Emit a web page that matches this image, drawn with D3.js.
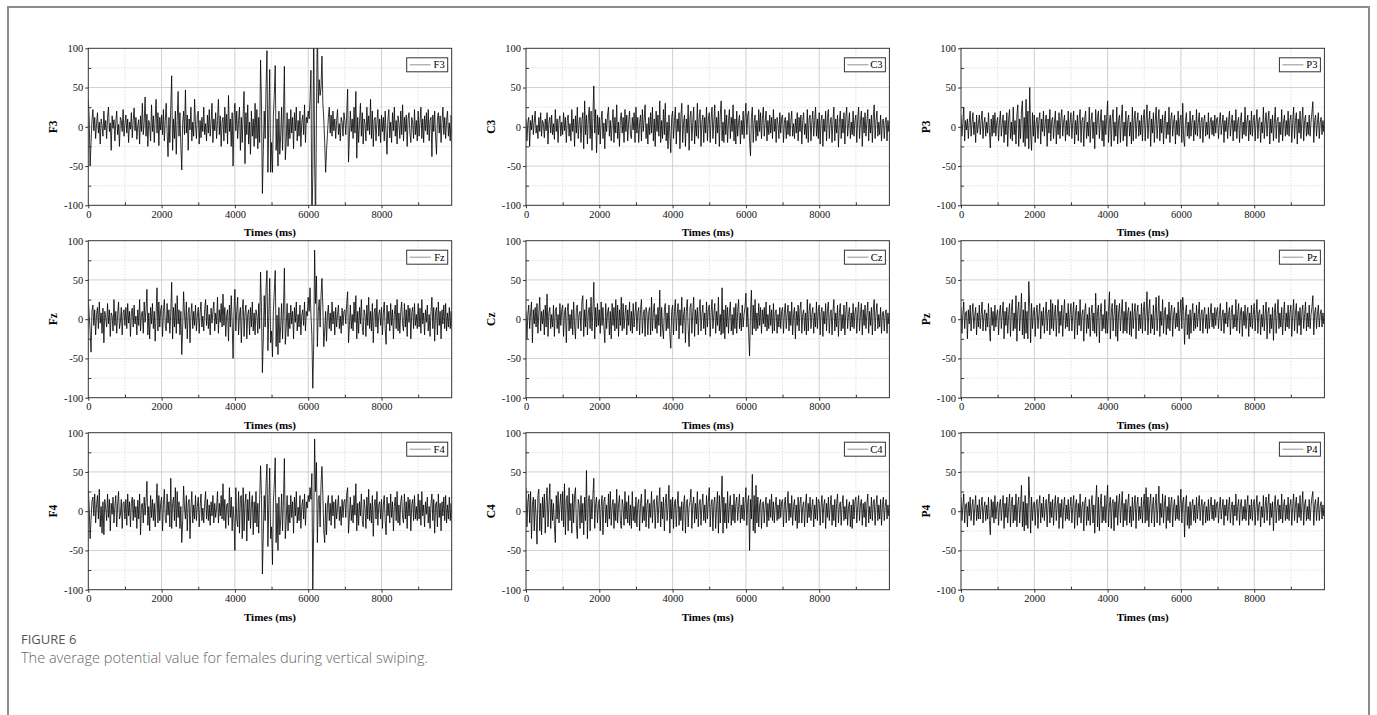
<!DOCTYPE html>
<html>
<head>
<meta charset="utf-8">
<script src="https://cdn.jsdelivr.net/npm/d3@7"></script>
<style>
  body { margin: 0; background: #fff; }
  svg { display: block; }
</style>
</head>
<body>
<svg id="fig" width="1377" height="715"></svg>
<script>
// sampling step of the traces (ms)
const STEP = 25
const xTicks = [0, 2000, 4000, 6000, 8000]
const yTicks = [-100, -50, 0, 50, 100]

// channel names, in grid order (row by row)
const channels = ["F3", "C3", "P3", "Fz", "Cz", "Pz", "F4", "C4", "P4"]

// values, one every 25 ms (one line = 1 s)
const F3 = [
  35,10,-50,-20,8,22,-5,12,-15,4, 18,-8,6,-22,10,2,-12,20,-4,8, -15,12,25,-6,5,-30,14,-2,9,-18, 6,20,-10,3,-25,12,8,-6,22,-12,
  4,15,-8,10,-20,6,-3,18,-14,8, 24,-5,12,-16,2,9,-22,14,-6,30, -10,5,38,-12,16,-25,8,2,-18,28, -6,14,-20,10,35,-8,18,-24,12,-4,
  15,-10,22,-18,8,30,-6,-38,12,-20, 25,65,-30,10,-15,20,-35,8,45,-12, 18,-25,-55,5,20,-10,47,-8,15,-30, 10,-4,25,-18,6,-12,35,2,-15,14,
  20,-22,8,-14,12,-6,25,-10,4,-18, 15,-8,22,-12,6,30,-20,10,-5,18, -15,8,35,-10,14,-25,6,12,-18,25, -8,16,-22,40,-6,10,-25,18,-50,12,
  30,-5,20,-15,8,25,-30,12,-20,15, 45,-47,18,-10,28,-22,6,-35,20,-12, 10,-25,30,-15,22,-28,12,-20,85,30, -85,-30,20,-15,50,97,-58,10,73,-58,
  -20,-58,15,40,78,-30,10,-50,20,-35, -10,25,-30,15,77,-42,-20,18,-25,10, -15,22,-8,12,-28,18,-5,25,-18,8, -12,20,-25,6,15,-10,28,-20,12,5,
  20,10,35,72,-130,-60,130,-40,-130,20, 130,30,60,40,50,90,30,10,-20,-58, -30,-10,12,25,-8,15,-12,20,-5,10, -15,8,22,-10,4,-18,12,6,-12,18,
  8,-10,15,48,-45,-12,20,-6,10,-15, 25,-8,45,-40,12,-20,6,30,-12,18, -22,10,4,-18,25,-5,14,-10,35,-15, 20,-25,8,12,-18,6,22,-12,10,-20,
  15,-6,12,-18,20,-8,-35,10,22,-14, 6,-20,18,-5,25,-12,8,-22,14,4, -15,20,-10,28,-18,12,-6,15,-25,10, 18,-8,-20,12,5,-15,22,-10,8,-18,
  20,-12,6,25,-15,10,-20,14,-5,18, -10,22,-18,8,12,-38,15,-6,20,-12, -35,10,18,-8,14,-20,6,25,-10,12, -15,8,20,-12,5,-18,15,-6,10,-4]
const Fz = [
  25,5,-15,-42,10,18,-8,12,-20,6, 15,-12,22,-5,8,-18,14,-30,10,2, -10,20,-6,12,-22,8,4,-15,25,-8, 10,-18,6,22,-12,-4,15,-20,8,12,
  -8,15,-12,20,-5,10,-22,8,14,-10, 18,-6,4,-20,12,-8,25,-15,6,10, -18,22,-4,12,38,-20,8,-25,15,-6, 20,-12,10,-28,6,40,-15,22,-10,12,
  18,-22,10,25,-8,-15,20,-5,12,-18, 8,47,-25,15,-10,20,-18,30,-6,12, -20,10,-45,-10,35,5,-12,22,-25,8, 15,-30,6,20,-12,10,-8,18,-15,4,
  15,-18,8,22,-10,4,-15,12,25,-8, 18,-12,6,-20,14,-5,10,22,-15,8, -6,28,-18,12,-4,20,-10,32,-8,15, -22,6,12,-28,18,-10,30,-5,-50,10,
  38,-15,10,28,-20,5,15,-30,12,25, -22,8,18,-25,6,12,-20,15,-10,22, -15,8,-20,12,5,-18,20,-12,60,15, -68,-25,30,-10,40,62,-40,5,52,-30,
  -15,-48,10,35,62,-35,5,-45,15,-30, -8,20,-25,12,65,-32,-10,20,-22,8, -12,18,-6,10,-25,15,-4,22,-15,6, -10,18,-20,5,12,-8,22,-15,10,4,
  28,10,40,5,-20,-88,-30,88,20,55, -35,10,25,-10,30,52,15,-35,-15,10, -28,5,18,-12,8,-15,22,-6,10,-20, 15,-10,6,18,-12,4,-18,14,-8,10,
  12,-6,20,35,-30,-8,18,-12,6,-15, 22,-4,30,-25,10,-18,15,-6,25,-10, -20,12,6,-22,18,-8,28,-12,10,-15, 20,-30,8,14,-10,25,-18,6,12,-8,
  15,-20,8,22,-12,-32,18,-6,10,-15, 20,-8,12,-25,6,18,-12,25,-15,8, -18,10,22,-6,-15,20,-10,12,-22,18, -4,14,-25,8,15,-12,20,-8,6,-12,
  20,-10,14,-18,25,-6,8,-20,12,-4, 18,-15,6,-22,10,28,-12,15,-28,8, 15,-20,22,-8,10,-25,12,-6,18,-12, 20,-15,8,-10,15,-12,10,-8,12,-5]
const F4 = [
  27,5,-35,-10,12,18,-6,22,-15,8, 20,-10,28,-20,6,-28,12,-30,15,4, -12,22,-8,15,-25,10,-4,18,-15,6, 20,-20,8,25,-10,-5,15,-22,10,12,
  -10,15,-18,22,-6,12,-20,10,18,-12, 15,-8,6,-22,14,-10,22,-30,8,10, -15,18,-5,12,38,-18,6,-25,20,-8, 15,-12,10,-20,8,35,-15,20,-12,10,
  18,-25,8,28,-10,-15,22,-5,12,-20, 42,-22,10,18,-12,30,-20,25,-8,12, -22,6,-40,-12,32,4,-10,20,-25,10, 15,-35,5,25,-15,8,-10,20,-12,6,
  18,-20,6,22,-12,4,-15,10,25,-10, 15,-12,8,-18,12,-6,20,-15,10,-8, 4,25,-15,10,-6,20,-10,35,-12,15, -22,8,10,-18,30,-8,18,-25,6,-10,
  -50,30,-10,-20,25,-28,18,20,-35,30, -25,10,22,-38,15,-12,25,-22,8,20, -30,12,-15,25,-20,10,-28,15,58,20, -80,-30,20,-12,35,60,-45,8,55,-35,
  -20,-68,12,35,68,-40,10,-50,18,-30, -10,22,-25,15,67,-35,-12,20,-25,8, -15,20,-8,12,-28,18,-6,25,-15,5, -12,20,-22,6,15,-10,22,-18,12,4,
  20,12,30,15,48,-100,-20,92,25,62, -40,15,20,-20,35,57,20,-25,-40,10, -30,8,20,-12,10,-18,20,-6,12,-22, 15,-10,5,20,-12,6,-18,15,-8,12,
  15,-8,22,30,-28,-6,18,-12,8,-15, 20,-5,35,-25,10,-18,12,-6,22,-12, -20,15,4,-22,18,-10,28,-12,10,-15, 20,-32,6,15,-10,25,-18,8,12,-10,
  15,-22,8,20,-12,-30,18,-6,10,-15, 22,-8,12,-25,6,18,-12,25,-15,8, -18,12,20,-8,-15,22,-10,12,-22,18, -6,15,-25,8,15,-12,20,-10,6,-12,
  22,-10,14,-18,25,-6,8,-20,12,-4, 18,-15,6,-22,10,22,-12,15,-28,8, 12,-20,22,-8,10,-25,12,-6,18,-12, 20,-15,8,-10,18,-12,10,-8,12,-5]
const C3 = [
  10,-18,5,12,-25,8,-4,15,-10,6, 20,-8,2,-15,12,-6,18,-12,8,4, -14,10,-5,18,-22,6,12,-8,15,-10, 4,-16,22,-6,10,-20,8,14,-12,6,
  -10,18,-5,12,-20,8,15,-12,4,-18, 22,-6,10,-25,14,-8,25,-15,6,12, -20,8,18,-28,33,-10,15,-22,10,25, -15,20,-30,12,52,-8,22,-33,15,-10,
  12,-22,8,20,-15,5,-28,10,-6,15, 25,-12,8,-18,4,22,-20,12,-8,28, -15,6,-25,10,18,-8,12,-20,22,-6, 15,-18,6,20,-10,-15,12,-4,18,-20,
  25,-8,12,-20,5,15,-18,22,-6,10, 28,-15,4,-22,12,-10,18,-8,25,-18, 10,-25,20,-6,15,-12,33,-20,8,-15, 22,-10,30,-18,6,-28,15,-8,-33,12,
  20,-15,8,25,-22,10,-6,18,-28,12, 30,-20,6,15,-25,10,-8,28,-30,12, 20,-18,5,25,-22,8,-12,30,-15,10, 22,-25,6,15,-20,12,-8,25,-18,10,
  18,-20,10,25,-15,6,28,-22,12,-8, 20,-25,15,33,-18,6,-20,22,-10,15, -20,8,22,-15,12,-6,28,-18,10,-22, 20,-12,6,15,-22,8,-10,20,-15,12,
  30,-10,15,20,-18,-37,12,25,-20,6, 15,-18,8,-12,22,-6,18,-15,10,25, -12,6,20,-18,8,-10,15,-8,12,-15, 22,-6,10,-20,12,4,-15,18,-8,12,
  15,-20,6,12,-15,8,-10,18,-12,6, 20,-12,4,-15,10,-8,18,-18,12,-6, 15,-22,8,18,-10,4,-15,22,-20,10, 15,-18,6,20,-12,8,25,-12,10,-15,
  18,-22,8,15,-25,10,-6,20,-18,12, 22,-15,6,12,-20,8,25,-18,10,-8, 15,-26,6,20,-15,10,-8,18,-22,12, 25,-12,4,18,-15,6,-10,20,-12,8,
  15,-20,10,25,-15,6,20,-25,12,-8, 18,-12,6,22,-18,10,-8,15,-20,12, 28,-15,8,20,-12,6,-10,15,-18,8, 10,-15,6,12,-18,8,-6,10,-8,5]
const Cz = [
  10,-25,6,18,-12,8,22,-30,12,-6, 15,-10,20,-18,8,28,-15,10,-6,12, -20,18,-10,32,-22,8,15,-12,6,-10, 18,-22,10,15,-12,6,-18,20,-8,12,
  18,-22,8,15,-30,10,20,-15,6,-12, 12,-20,22,-8,-25,15,18,-12,6,10, -15,22,30,-22,12,-10,25,-20,8,15, -12,28,-15,10,47,-25,15,-10,20,-8,
  12,-18,22,-8,15,-10,-30,20,-12,8, 15,-20,10,-25,20,-8,15,-15,25,-12, 18,-22,12,-8,28,-15,20,-12,6,18, -20,12,-8,22,-15,10,-18,20,-10,8,
  22,-15,8,15,-20,12,25,-18,6,12, -22,15,8,-20,10,15,-20,28,-15,8, 20,-12,6,-18,15,-8,37,-22,15,-10, -25,12,20,-15,8,-12,18,-20,-37,10,
  18,-20,10,25,-15,6,20,-25,12,-8, 28,-18,6,15,-30,10,25,-12,-35,15, 20,-18,8,28,-22,12,-6,15,-20,10, 25,-15,6,18,-12,8,-20,22,-10,12,
  18,-22,8,25,-12,6,20,-18,10,-8, 28,-15,6,-20,40,-18,12,-25,18,-10, 15,-18,8,22,-15,6,-20,15,-12,20, -18,10,25,-12,8,-15,18,-10,6,15,
  33,-10,15,-18,-47,8,37,-20,18,-12, 25,-15,8,-12,20,-8,15,-18,12,-6, 15,-10,22,-15,6,-12,18,-8,12,-18, 20,-15,8,12,-18,6,-10,15,-12,10,
  15,-18,8,20,-12,6,18,-15,10,-8, 22,-20,6,15,-25,10,-8,18,-15,12, 22,-18,6,12,-15,8,-20,25,-15,10, 20,-12,6,15,-18,8,-10,22,-12,10,
  18,-20,8,15,-22,10,-6,20,-15,12, 22,-18,6,12,-20,10,25,-15,8,-10, 18,-22,8,20,-15,6,-12,18,-20,10, 22,-12,6,15,-15,8,-10,20,-12,8,
  15,-18,8,22,-15,6,20,-20,12,-8, 18,-12,6,22,-18,10,-8,15,-20,12, 25,-15,8,20,-12,6,-10,15,-18,8, 10,-15,6,12,-18,8,-6,10,-8,5]
const C4 = [
  30,-20,12,22,-15,25,-35,8,18,-25, 15,-6,-42,20,28,-25,10,-30,18,-8, 22,-28,12,30,-20,8,35,-22,15,-12, 10,-18,-40,20,-10,25,-15,8,22,-12,
  25,-20,35,-30,15,20,-25,30,-12,10, -28,22,-15,20,30,-18,-35,15,8,-22, 20,-15,10,-30,18,-12,52,-35,12,20, -25,15,-10,20,42,-22,10,18,-15,8,
  15,-25,6,20,-30,12,18,-15,8,-20, 22,-10,25,-18,6,15,-22,10,-12,28, -15,8,20,-12,-22,15,6,-18,25,-10, 12,-15,20,-18,8,-22,25,-12,6,-15,
  18,-20,8,15,-25,10,22,-15,6,-12, 28,-20,8,15,-22,10,-8,25,-15,12, 15,-22,6,20,-15,8,30,-20,12,-10, 18,-25,10,22,-12,6,33,-28,15,-10,
  18,-22,10,15,-20,8,25,-18,6,-12, 12,-25,8,20,-28,10,15,-20,6,12, 28,-22,8,18,-15,10,-10,25,-20,8, 15,-18,6,22,-12,8,-15,20,-10,12,
  30,-20,8,15,-25,10,18,-22,6,25, -28,20,-15,10,45,-28,18,-15,10,-22, 25,-15,6,20,-18,8,-12,22,-15,10, 18,-12,6,22,-15,8,-10,18,-12,10,
  30,-18,12,20,-50,15,-10,47,-25,20, -28,33,-15,18,-20,8,15,-22,10,12, -15,6,18,-20,10,-12,15,-8,22,-12, 12,-15,6,18,-12,8,-10,15,-8,12,
  15,-20,8,18,-15,6,25,-12,10,-8, 20,-18,6,15,-12,8,-22,18,-15,10, 18,-15,6,12,-20,8,22,-15,10,-8, 18,-12,6,15,-20,8,-10,18,-12,15,
  12,-18,6,20,-15,8,15,-22,10,-8, 18,-12,6,20,-18,8,-12,15,-20,10, 22,-15,6,12,-18,8,20,-12,6,-10, 15,-18,6,12,-20,8,-22,15,-10,12,
  18,-15,6,20,-12,8,15,-18,10,-8, 12,-20,8,22,-15,6,-10,18,-12,10, 15,-18,6,20,-12,8,-10,15,-18,8, 18,-12,6,15,-10,8,-6,12,-8,5]
const P3 = [
  15,-12,5,25,-18,8,-4,10,-15,6, 20,-12,4,18,-10,6,-20,15,-8,4, 15,-10,8,20,-15,4,12,-12,6,-8, 18,-6,-27,10,-12,15,-8,18,-12,6,
  12,-18,6,20,-12,4,15,-20,8,-10, 18,-25,10,22,-15,6,-18,25,-10,8, -22,15,28,-25,10,-15,20,33,-20,12, -25,35,-15,20,-28,50,-10,-30,18,-12,
  15,-20,6,12,-15,8,18,-22,10,-6, 20,-12,6,15,-25,10,-8,22,-18,8, 12,-15,6,20,-22,8,-10,18,-15,10, 22,-12,6,15,-18,8,-10,20,-12,6,
  18,-15,6,20,-22,8,-10,15,-18,10, 22,-20,8,12,-25,10,20,-15,6,-12, 25,-20,8,18,-15,6,-28,22,-10,12, 20,-15,6,22,-18,8,-25,15,-10,12,
  33,-20,8,15,-25,10,22,-18,6,-12, 25,-22,8,15,-20,10,28,-18,6,-12, 20,-25,8,15,-12,6,-22,25,-18,10, 20,-15,6,18,-12,8,-10,15,-18,10,
  22,-18,8,28,-15,6,20,-25,10,-8, 18,-20,8,25,-15,6,22,-18,10,-8, 15,-22,8,20,-15,6,-10,25,-20,10, 18,-12,6,15,-22,8,-10,20,-12,8,
  15,-20,30,-15,-25,8,18,-12,6,-15, 20,-12,6,15,-18,8,-10,22,-12,6, 18,-15,6,12,-20,8,15,-12,6,-10, 18,-15,6,12,-10,8,-12,15,-8,10,
  12,-15,6,18,-10,4,15,-20,8,-6, 12,-15,6,20,-12,4,15,-18,8,-6, 22,-15,6,12,-20,8,18,-15,6,-10, 25,-12,6,15,-18,8,-10,20,-12,8,
  15,-18,6,22,-15,8,12,-20,6,-8, 25,-15,6,18,-12,8,20,-22,10,-8, 15,-18,6,25,-15,8,12,-20,6,-10, 22,-18,6,15,-12,8,-10,20,-12,8,
  15,-20,6,25,-15,8,18,-22,10,-8, 20,-15,6,25,-18,8,15,-12,6,-10, 15,-12,6,18,32,-20,8,15,-12,6, 18,-15,6,12,-10,8,-6,10,-8,5]
const Pz = [
  15,-18,6,22,-12,8,10,-25,12,-6, 18,-15,6,20,-12,4,15,-20,8,-10, 18,-12,6,22,-15,4,12,-15,8,-10, 20,-12,-28,15,-8,10,-15,18,-10,6,
  12,-20,8,18,-12,6,22,-25,10,-8, 15,-18,6,20,-22,10,25,-15,8,-12, 30,-28,10,22,-15,6,33,-20,12,-25, 22,-18,10,-25,48,15,-30,20,-12,8,
  15,-22,8,18,-12,6,20,-25,10,-8, 15,-18,6,22,-15,8,12,-20,25,-12, 20,-15,6,18,-22,8,25,-18,10,-8, 18,-22,6,25,-12,8,-10,20,-15,6,
  20,-15,6,22,-25,8,18,-20,10,-8, 25,-15,6,12,-28,10,20,-18,6,-12, 15,-22,6,18,-15,8,-18,33,-22,10, 18,-30,8,20,-15,6,-12,25,-18,10,
  -18,10,35,-25,8,20,-15,6,25,-22, 18,-28,8,20,-15,6,25,-18,10,-15, 22,-18,8,15,-20,10,-22,20,-12,8, 20,-25,8,18,-15,6,-12,20,-18,10,
  22,-15,8,35,-20,10,25,-18,6,-12, 18,-20,8,28,-15,6,30,-22,10,-8, 25,-18,8,15,-20,6,-12,22,-15,10, 18,-22,6,15,-12,8,-10,22,-15,8,
  25,-12,28,10,-32,8,18,-20,6,-25, 12,-18,6,20,-15,8,-12,18,-10,6, 22,-15,6,12,-18,8,15,-12,6,-18, 15,-12,6,20,-10,8,-12,15,-8,10,
  15,-12,6,20,-15,4,12,-18,8,-6, 22,-10,6,15,-20,8,18,-12,6,-10, 25,-15,6,20,-18,8,15,-22,10,-8, 18,-12,6,15,-22,8,-10,18,-12,6,
  20,-15,6,25,-18,8,12,-20,6,-10, 18,-15,6,22,-25,8,15,-18,6,-12, 15,-27,8,20,-18,6,25,-12,8,-10, 15,-20,6,22,-15,8,-10,18,-12,8,
  18,-22,6,25,-15,8,20,-18,10,-8, 15,-20,8,18,-12,6,22,-15,8,-10, 18,-12,6,15,30,-20,8,15,-12,6, 18,-10,6,12,-10,8,-6,10,-8,5]
const P4 = [
  18,-12,6,22,-15,8,10,-20,12,-6, 18,-12,6,15,-18,4,20,-12,8,-10, 15,-10,6,18,-15,4,12,-12,8,-10, 18,-12,-30,15,-8,12,-15,20,-10,6,
  12,-18,8,15,-12,6,20,-22,10,-8, 18,-15,6,22,-20,10,18,-15,8,-12, 22,-20,8,18,-15,6,33,-20,12,-25, 20,-18,10,-22,44,15,-28,18,-12,8,
  12,-18,8,15,-22,6,20,-15,10,-8, 18,-12,6,15,-20,8,22,-15,12,-8, 15,-18,6,20,-12,8,18,-22,10,-8, 15,-22,6,18,-12,8,-10,15,-12,6,
  18,-15,6,20,-22,8,15,-18,10,-8, 22,-15,6,12,-25,10,18,-18,6,-12, 15,-18,6,20,-15,8,-28,12,33,-20, 18,-25,8,22,-15,6,-12,20,-15,10,
  33,-20,8,18,-22,10,15,-25,12,-8, 20,-18,8,22,-15,6,25,-20,10,-12, 15,-18,8,22,-15,6,-20,18,-12,8, 20,-22,8,18,-12,6,-10,18,-15,8,
  22,-15,30,-12,18,-20,8,22,-15,6, 18,-20,8,22,-15,6,32,-18,10,-8, 22,-15,8,20,-22,6,-12,18,-15,10, 18,-20,6,15,-12,8,-10,20,-12,8,
  28,-15,12,18,-33,8,20,-18,6,-22, 12,-18,6,15,-12,8,-15,18,-10,6, 20,-12,6,15,-18,8,12,-15,6,-12, 15,-12,6,18,-10,8,-12,15,-8,10,
  12,-15,6,18,-10,4,15,-18,8,-6, 15,-12,6,18,-15,4,12,-18,8,-6, 22,-12,6,15,-18,8,15,-12,6,-10, 15,-12,6,20,-18,8,-10,15,-12,8,
  15,-18,6,20,-12,8,12,-20,6,-8, 20,-15,6,18,-12,8,22,-18,10,-8, 12,-25,8,20,-15,6,15,-12,8,-10, 22,-15,6,15,-12,8,-10,18,-12,8,
  15,-18,6,22,-12,8,18,-15,10,-8, 20,-12,6,25,-18,8,15,-12,6,-10, 15,-12,6,18,25,-18,8,15,-12,6, 18,-12,6,12,-10,8,-6,10,-8,5]

const series = { F3, C3, P3, Fz, Cz, Pz, F4, C4, P4 }

function panel(svg, name, left, top) {
  let width = 363.4
  let height = 157

  let x = d3.scaleLinear().domain([0, 9915]).range([0, width])
  let y = d3.scaleLinear().domain([-100, 100]).range([height, 0])

  let g = svg.append("g").attr("transform", "translate(" + left + "," + top + ")")

  // clip so the big swings stay inside the frame
  g.append("clipPath").attr("id", "clip-" + name)
    .append("rect").attr("width", width).attr("height", height)

  // grid: solid at major ticks, dotted at the minor ones
  let grid = g.append("g")
  grid.selectAll(".vx").data(d3.range(1000, 9915, 1000)).enter().append("line")
    .attr("x1", d => x(d)).attr("x2", d => x(d)).attr("y1", 0).attr("y2", height)
    .attr("stroke", d => d % 2000 == 0 ? "#d0d0d0" : "#e0e0e0")
    .attr("stroke-dasharray", d => d % 2000 == 0 ? null : "1.5,1.5")
  grid.selectAll(".hy").data([-75, -50, -25, 0, 25, 50, 75]).enter().append("line")
    .attr("y1", d => y(d)).attr("y2", d => y(d)).attr("x1", 0).attr("x2", width)
    .attr("stroke", d => d % 50 == 0 ? "#d0d0d0" : "#e0e0e0")
    .attr("stroke-dasharray", d => d % 50 == 0 ? null : "1.5,1.5")

  // the trace
  let data = series[name]
  let valueline = d3.line()
    .x((d, i) => x(i * STEP))
    .y(d => y(d))
  g.append("path")
    .datum(data)
    .attr("clip-path", "url(#clip-" + name + ")")
    .attr("fill", "none")
    .attr("stroke", "#000")
    .attr("stroke-width", 0.8)
    .attr("d", valueline)

  // frame
  g.append("rect").attr("width", width).attr("height", height)
    .attr("fill", "none").attr("stroke", "#333").attr("stroke-width", 1)

  // x axis: labelled ticks outside, minor ticks inside
  g.append("g").attr("transform", "translate(0," + height + ")")
    .call(d3.axisBottom(x).tickValues(xTicks).tickSize(3).tickPadding(2).tickFormat(d => String(d)))
  g.append("g").attr("transform", "translate(0," + height + ")")
    .call(d3.axisTop(x).tickValues([1000, 3000, 5000, 7000, 9000]).tickSize(3).tickFormat(""))
  g.append("g")
    .call(d3.axisLeft(y).tickValues(yTicks).tickSize(3).tickPadding(2).tickFormat(d => String(d)))
  g.append("g")
    .call(d3.axisRight(y).tickValues([-75, -25, 25, 75]).tickSize(3).tickFormat(""))

  g.selectAll(".domain").remove()
  g.selectAll(".tick line").attr("stroke", "#333")
  g.selectAll(".tick text")
    .attr("fill", "#111")
    .style("font-family", "'Liberation Serif', 'DejaVu Serif', serif")
    .style("font-size", "10.5px")

  // axis titles
  g.append("text")
    .attr("x", width / 2).attr("y", height + 31)
    .attr("text-anchor", "middle")
    .style("font-family", "'Liberation Serif', serif")
    .style("font-weight", "bold").style("font-size", "11px")
    .text("Times (ms)")
  g.append("text")
    .attr("transform", "translate(-31," + (height / 2) + ") rotate(-90)")
    .attr("text-anchor", "middle")
    .style("font-family", "'Liberation Serif', serif")
    .style("font-weight", "bold").style("font-size", "11.5px")
    .text(name)

  // legend box
  let lg = g.append("g").attr("transform", "translate(" + (width - 45) + ",9.5)")
  lg.append("rect").attr("width", 41).attr("height", 14)
    .attr("fill", "#fff").attr("stroke", "#333").attr("stroke-width", 1)
  lg.append("line").attr("x1", 3).attr("x2", 24).attr("y1", 7).attr("y2", 7)
    .attr("stroke", "#777").attr("stroke-width", 0.8)
  lg.append("text").attr("x", 38).attr("y", 10.5)
    .attr("text-anchor", "end")
    .style("font-family", "'Liberation Serif', serif").style("font-size", "10.5px")
    .text(name)
}

function main() {
  let svg = d3.select("#fig")

  // outer frame of the figure
  svg.append("path")
    .attr("d", "M8,715 L8,7 L1369,7 L1369,715")
    .attr("fill", "none").attr("stroke", "#8c8c8c").attr("stroke-width", 2)

  let lefts = [88.3, 526, 961]
  let tops = [48.3, 240.7, 432.7]
  channels.forEach((name, i) => {
    panel(svg, name, lefts[i % 3], tops[Math.floor(i / 3)])
  })

  // caption
  svg.append("text").attr("x", 21).attr("y", 643.5)
    .style("font-family", "'Open Sans', sans-serif").style("font-size", "13px")
    .attr("fill", "#555").text("FIGURE 6")
  svg.append("text").attr("x", 21).attr("y", 662.5)
    .style("font-family", "'Open Sans', sans-serif").style("font-size", "14.5px")
    .style("font-weight", "300")
    .attr("fill", "#666").text("The average potential value for females during vertical swiping.")
}

main()
</script>
</body>
</html>
